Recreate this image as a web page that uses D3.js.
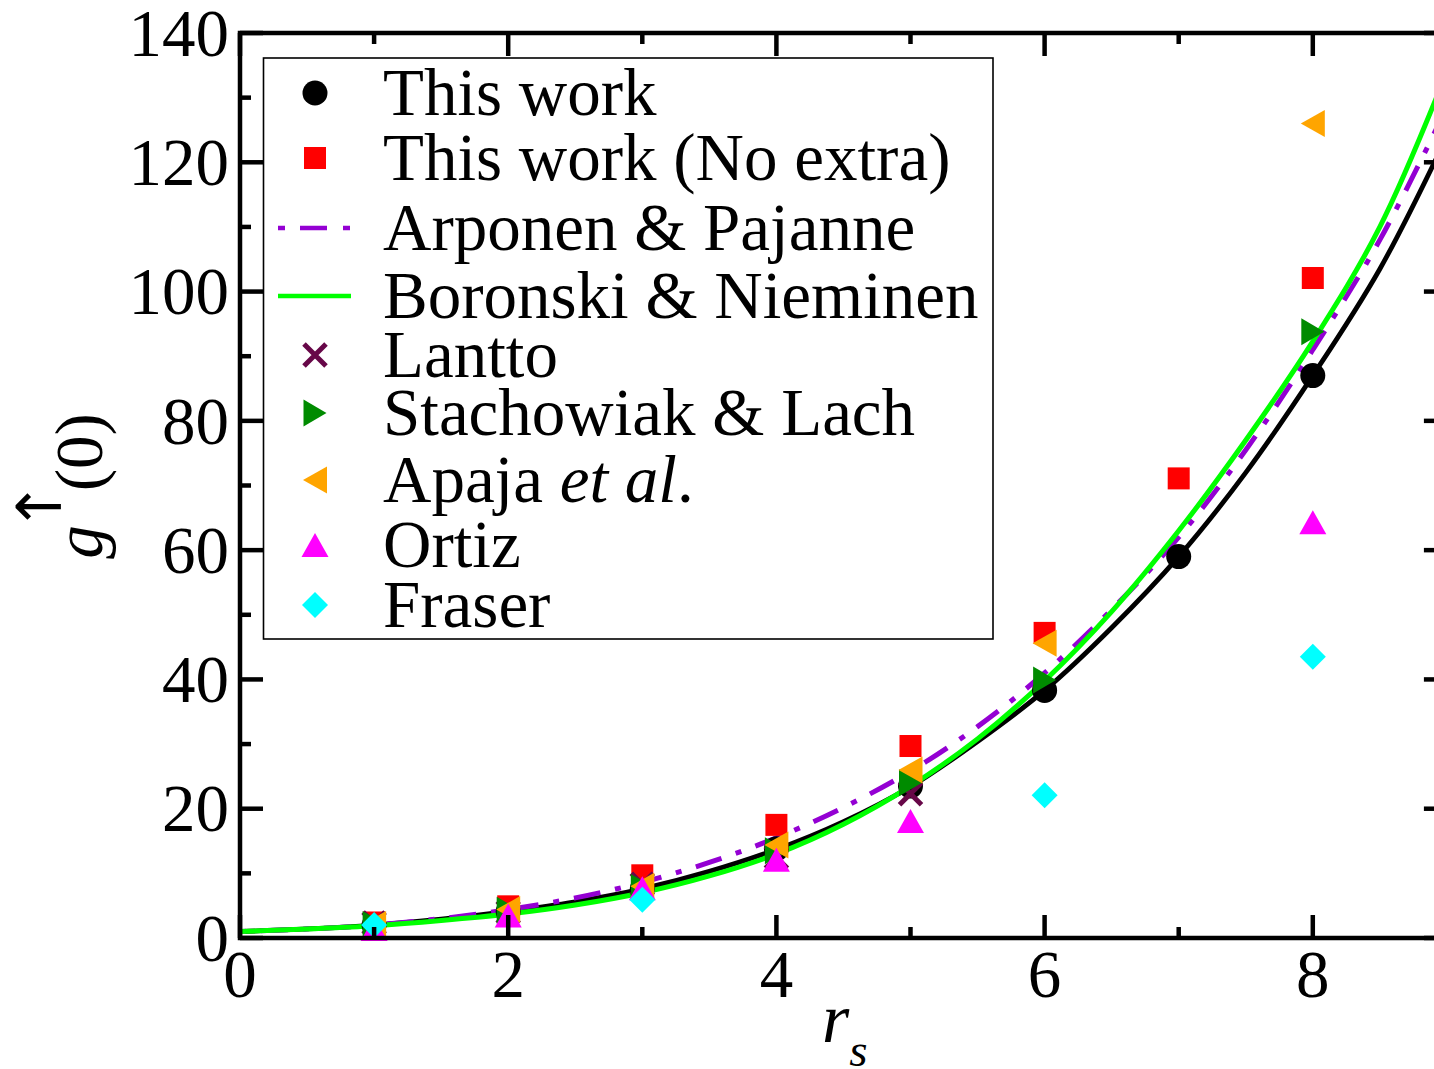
<!DOCTYPE html>
<html>
<head>
<meta charset="utf-8">
<script src="https://cdn.jsdelivr.net/npm/d3@7"></script>
<style>
  html, body { margin: 0; padding: 0; background: #fff; }
  svg { display: block; }
  text { font-family: "Liberation Serif", "Times New Roman", serif; fill: #000; }
</style>
</head>
<body>
<svg id="chart" width="1434" height="1069"></svg>
<script>
// ---------------- data ----------------
const xTicks = [0, 2, 4, 6, 8];
const yTicks = [0, 20, 40, 60, 80, 100, 120, 140];

// "This work" (black circles)
const thisWorkRs = [1, 2, 3, 4, 5, 6, 7, 8];
const thisWorkG  = [2.0, 4.1, 7.6, 13.8, 23.5, 38.3, 59.0, 87.0];
// "This work (No extra)" (red squares)
const noExtraRs = [1, 2, 3, 4, 5, 6, 7, 8];
const noExtraG  = [2.4, 4.9, 9.7, 17.5, 29.7, 47.2, 71.1, 102.1];
// Lantto (maroon x)
const lanttoRs = [1, 2, 3, 4, 5];
const lanttoG  = [2.3, 4.0, 8.3, 12.5, 22.3];
// Stachowiak & Lach (green right triangles)
const stachRs = [1, 2, 3, 4, 5, 6, 8];
const stachG  = [2.1, 4.3, 7.8, 13.5, 24.0, 39.9, 93.8];
// Apaja et al. (orange left triangles)
const apajaRs = [1, 2, 3, 4, 5, 6, 8];
const apajaG  = [2.1, 4.4, 8.0, 14.4, 26.0, 45.6, 126.0];
// Ortiz (magenta up triangles)
const ortizRs = [1, 2, 3, 4, 5, 8];
const ortizG  = [1.4, 3.5, 7.7, 12.1, 18.1, 64.3];
// Fraser (cyan diamonds)
const fraserRs = [1, 3, 6, 8];
const fraserG  = [2.0, 5.9, 22.1, 43.5];

// Curves
const curveRs = [0, 0.5, 1, 1.5, 2, 2.5, 3, 3.5, 4, 4.5, 5, 5.5, 6, 6.5, 7, 7.5, 8, 8.5, 9];
const fitThisWork = [1.0, 1.4, 2.0, 2.9, 4.1, 5.6, 7.6, 10.3, 13.7, 18.0, 23.4, 30.4, 38.3, 48.0, 59.0, 72.0, 87.0, 103.5, 124.0];
const arponenG    = [1.0, 1.4, 2.0, 3.0, 4.4, 6.2, 8.6, 11.7, 15.5, 20.2, 25.8, 32.7, 41.0, 50.8, 62.0, 75.5, 91.0, 108.0, 128.5];
const boronskiG   = [1.0, 1.4, 1.9, 2.7, 3.7, 5.1, 7.0, 9.6, 13.0, 17.6, 23.5, 30.8, 39.8, 50.5, 63.0, 77.0, 92.3, 110.0, 134.0];

const legendLabels = ["This work", "This work (No extra)", "Arponen & Pajanne", "Boronski & Nieminen",
  "Lantto", "Stachowiak & Lach", "Apaja", "Ortiz", "Fraser"];

// ---------------- layout ----------------
const svg = d3.select("#chart");
const X0 = 240, X1 = 1446.9, Y0 = 938, Y1 = 33;
const x = d3.scaleLinear().domain([0, 9]).range([X0, X1]);
const y = d3.scaleLinear().domain([0, 140]).range([Y0, Y1]);
const AXW = 4.5;

svg.append("defs").append("clipPath").attr("id", "clip")
  .append("rect").attr("x", X0).attr("y", Y1).attr("width", X1 - X0).attr("height", Y0 - Y1);

// ---------------- curves ----------------
const mkLine = vals => d3.line()
  .x((d, i) => x(curveRs[i])).y(d => y(d))
  .curve(d3.curveCatmullRom.alpha(0.5))(vals);

const curves = svg.append("g").attr("clip-path", "url(#clip)");
curves.append("path").attr("d", mkLine(fitThisWork))
  .attr("fill", "none").attr("stroke", "#000").attr("stroke-width", 4.8);
curves.append("path").attr("d", mkLine(arponenG))
  .attr("fill", "none").attr("stroke", "#9400D3").attr("stroke-width", 5)
  .attr("stroke-dasharray", "6,15,27,15");
curves.append("path").attr("d", mkLine(boronskiG))
  .attr("fill", "none").attr("stroke", "#00FF00").attr("stroke-width", 5);

// ---------------- marker shapes ----------------
const shapes = {
  circle: (g) => g.append("circle").attr("r", 12.5).attr("fill", "#000"),
  square: (g) => g.append("rect").attr("x", -11).attr("y", -11).attr("width", 22).attr("height", 22).attr("fill", "#FF0000"),
  cross: (g) => g.append("path").attr("d", "M-11,-11L11,11M-11,11L11,-11")
      .attr("stroke", "#670748").attr("stroke-width", 5).attr("fill", "none"),
  right: (g) => g.append("path").attr("d", "M-11.5,-13.5L11.5,0L-11.5,13.5Z").attr("fill", "#008B00"),
  left: (g) => g.append("path").attr("d", "M12,-13.5L-12,0L12,13.5Z").attr("fill", "#FFA500"),
  up: (g) => g.append("path").attr("d", "M-13.5,12L0,-12L13.5,12Z").attr("fill", "#FF00FF"),
  diamond: (g) => g.append("path").attr("d", "M0,-13L13,0L0,13L-13,0Z").attr("fill", "#00FFFF")
};

function drawSeries(rs, vals, shape) {
  const g = svg.append("g");
  rs.forEach((r, i) => {
    const m = g.append("g").attr("transform", `translate(${x(r)},${y(vals[i])})`);
    shapes[shape](m);
  });
}
drawSeries(thisWorkRs, thisWorkG, "circle");
drawSeries(noExtraRs, noExtraG, "square");
drawSeries(lanttoRs, lanttoG, "cross");
drawSeries(stachRs, stachG, "right");
drawSeries(apajaRs, apajaG, "left");
drawSeries(ortizRs, ortizG, "up");
drawSeries(fraserRs, fraserG, "diamond");

// ---------------- axes / frame ----------------
const frame = svg.append("g");
frame.append("rect").attr("x", X0).attr("y", Y1).attr("width", X1 - X0).attr("height", Y0 - Y1)
  .attr("fill", "none").attr("stroke", "#000").attr("stroke-width", AXW);

const MAJ = 23, MIN = 11;
const xMinor = d3.range(1, 10, 2);
const yMinor = d3.range(10, 140, 20);
xTicks.forEach(v => {
  frame.append("line").attr("x1", x(v)).attr("x2", x(v)).attr("y1", Y0).attr("y2", Y0 - MAJ).attr("stroke", "#000").attr("stroke-width", AXW);
  frame.append("line").attr("x1", x(v)).attr("x2", x(v)).attr("y1", Y1).attr("y2", Y1 + MAJ).attr("stroke", "#000").attr("stroke-width", AXW);
});
xMinor.forEach(v => {
  frame.append("line").attr("x1", x(v)).attr("x2", x(v)).attr("y1", Y0).attr("y2", Y0 - MIN).attr("stroke", "#000").attr("stroke-width", AXW);
  frame.append("line").attr("x1", x(v)).attr("x2", x(v)).attr("y1", Y1).attr("y2", Y1 + MIN).attr("stroke", "#000").attr("stroke-width", AXW);
});
yTicks.forEach(v => {
  frame.append("line").attr("y1", y(v)).attr("y2", y(v)).attr("x1", X0).attr("x2", X0 + MAJ).attr("stroke", "#000").attr("stroke-width", AXW);
  frame.append("line").attr("y1", y(v)).attr("y2", y(v)).attr("x1", X1).attr("x2", X1 - MAJ).attr("stroke", "#000").attr("stroke-width", AXW);
});
yMinor.forEach(v => {
  frame.append("line").attr("y1", y(v)).attr("y2", y(v)).attr("x1", X0).attr("x2", X0 + MIN).attr("stroke", "#000").attr("stroke-width", AXW);
  frame.append("line").attr("y1", y(v)).attr("y2", y(v)).attr("x1", X1).attr("x2", X1 - MIN).attr("stroke", "#000").attr("stroke-width", AXW);
});

// tick labels
const TFS = 67;
xTicks.forEach(v => {
  svg.append("text").attr("x", x(v)).attr("y", 997).attr("text-anchor", "middle")
    .attr("font-size", TFS).text(v);
});
yTicks.forEach(v => {
  svg.append("text").attr("x", 229).attr("y", y(v)).attr("dy", "0.34em").attr("text-anchor", "end")
    .attr("font-size", TFS).text(v);
});

// axis titles
const xt = svg.append("text").attr("x", 822).attr("y", 1042).attr("font-size", 70);
xt.append("tspan").attr("font-style", "italic").text("r");
xt.append("tspan").attr("font-style", "italic").attr("font-size", 47).attr("dy", 24).text("s");

// y title: g (arrow) (0), rotated; the superscript arrow drawn as its own glyph
const yt = svg.append("text").attr("transform", "translate(102,486) rotate(-90)")
  .attr("text-anchor", "middle").attr("font-size", 67);
yt.append("tspan").attr("font-style", "italic").text("g");
yt.append("tspan").attr("dx", 34).text("(0)");
svg.append("text").attr("x", 38.5).attr("y", 526)
  .attr("text-anchor", "middle").attr("font-size", 62)
  .style("font-family", "'DejaVu Sans', sans-serif").text("\u2190");

// ---------------- legend ----------------
const LFS = 67;
const legendRowY = [93, 158, 228, 296, 355, 413, 480, 545, 605];
const lg = svg.append("g");
lg.append("rect").attr("x", 263.5).attr("y", 58).attr("width", 729.5).attr("height", 581)
  .attr("fill", "#fff").attr("stroke", "#000").attr("stroke-width", 1.6);
const legendShapes = ["circle", "square", null, null, "cross", "right", "left", "up", "diamond"];
legendLabels.forEach((lab, i) => {
  const cy = legendRowY[i];
  if (legendShapes[i]) {
    const m = lg.append("g").attr("transform", `translate(315,${cy})`);
    shapes[legendShapes[i]](m);
  } else if (i === 2) {
    lg.append("line").attr("x1", 278).attr("x2", 351).attr("y1", cy).attr("y2", cy)
      .attr("stroke", "#9400D3").attr("stroke-width", 4.5).attr("stroke-dasharray", "7,15,27,16");
  } else {
    lg.append("line").attr("x1", 278).attr("x2", 351).attr("y1", cy).attr("y2", cy)
      .attr("stroke", "#00FF00").attr("stroke-width", 4.5);
  }
  const t = lg.append("text").attr("x", 383).attr("y", cy + 22).attr("font-size", LFS);
  t.append("tspan").text(lab);
  if (lab === "Apaja") {
    t.append("tspan").text(" ");
    t.append("tspan").attr("font-style", "italic").text("et al");
    t.append("tspan").text(".");
  }
});
</script>
</body>
</html>
